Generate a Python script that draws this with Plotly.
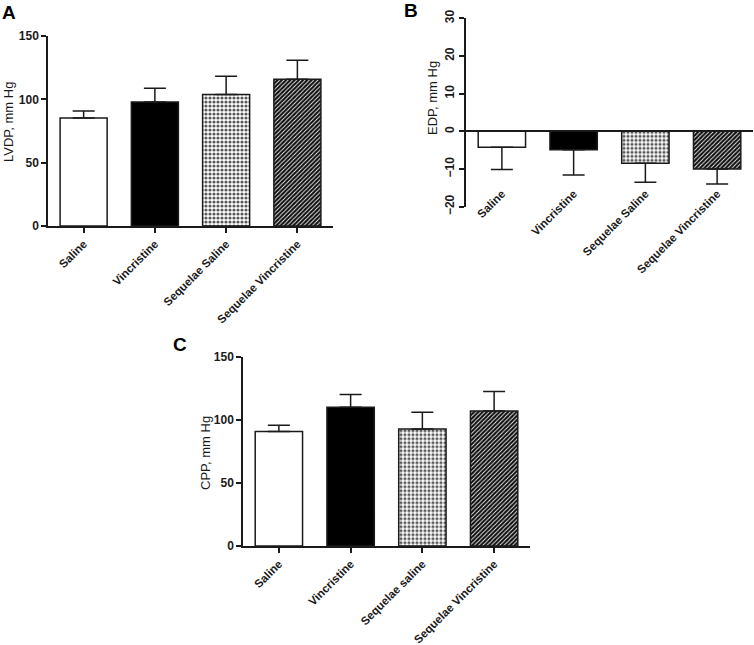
import plotly.graph_objects as go

# group labels
groups_ab = ["Saline", "Vincristine", "Sequelae Saline", "Sequelae Vincristine"]
groups_c = ["Saline", "Vincristine", "Sequelae saline", "Sequelae Vincristine"]

# panel A: LVDP (mean, SEM)
lvdp_mean = [85.3, 97.9, 103.9, 115.8]
lvdp_sem = [5.5, 10.8, 14.3, 15.0]

# panel B: EDP (mean, SEM)
edp_mean = [-4.2, -4.9, -8.5, -10.0]
edp_sem = [5.9, 6.7, 5.0, 4.0]

# panel C: CPP (mean, SEM)
cpp_mean = [90.8, 109.9, 92.7, 106.9]
cpp_sem = [4.8, 10.2, 13.2, 15.6]

W, H = 754, 645
FONT = "Liberation Sans, Arial, sans-serif"
INK = "#1a1a1a"

# fill style per group: plain white, solid black, dotted, dark hatched
fills = [
    dict(color="white"),
    dict(color="black"),
    dict(color="white", pattern=dict(shape=".", bgcolor="white", fgcolor="#5a5a5a",
                                     size=4, solidity=0.5, fillmode="replace")),
    dict(color="black", pattern=dict(shape="/", bgcolor="#0d0d0d", fgcolor="#f2f2f2",
                                     size=3, solidity=0.3, fillmode="replace")),
]


def px_x(a, b):
    return [a / W, b / W]


def px_y(bottom, top):
    return [(H - bottom) / H, (H - top) / H]


def add_panel(x, y, sem, xa, ya, down=False):
    for i in range(len(x)):
        fig.add_trace(go.Bar(
            x=[x[i]], y=[y[i]], xaxis=xa, yaxis=ya,
            marker=dict(fills[i], line=dict(color=INK, width=1.5)),
            error_y=dict(type="data", symmetric=False,
                         array=[0 if down else sem[i]],
                         arrayminus=[sem[i] if down else 0],
                         color=INK, thickness=1.5, width=11),
            showlegend=False, hoverinfo="skip",
        ))


fig = go.Figure()
add_panel(groups_ab, lvdp_mean, lvdp_sem, "x", "y")
add_panel(groups_ab, edp_mean, edp_sem, "x2", "y2", down=True)
add_panel(groups_c, cpp_mean, cpp_sem, "x3", "y3")

tick_font = dict(family=FONT, size=12, color=INK, weight="bold")
cat_font = dict(family=FONT, size=11.5, color=INK, weight="bold")

xcommon = dict(type="category", showline=True, linecolor=INK, linewidth=1.5,
               ticks="outside", ticklen=5, tickwidth=1.5, tickcolor=INK,
               tickangle=-45, tickfont=cat_font, showgrid=False, zeroline=False,
               automargin=False, fixedrange=True)
ycommon = dict(showline=True, linecolor=INK, linewidth=1.5,
               ticks="outside", ticklen=5, tickwidth=1.5, tickcolor=INK,
               tickfont=tick_font, showgrid=False, automargin=False, fixedrange=True)

fig.update_layout(
    width=W, height=H,
    margin=dict(l=0, r=0, t=0, b=0, pad=0),
    paper_bgcolor="white", plot_bgcolor="white",
    barmode="overlay", bargap=0.34,
    xaxis=dict(xcommon, domain=px_x(48, 333), anchor="y", range=[-0.5, 3.5]),
    yaxis=dict(ycommon, domain=px_y(226, 36), anchor="x", range=[0, 150],
               tickvals=[0, 50, 100, 150], zeroline=False),
    xaxis2=dict(xcommon, domain=px_x(466, 753), anchor="free",
                position=(H - 184) / H, range=[-0.5, 3.5],
                showline=False, ticks=""),
    yaxis2=dict(ycommon, domain=px_y(206.7, 18.3), anchor="x2", range=[-20, 30],
                tickvals=[-20, -10, 0, 10, 20, 30], tickangle=-90,
                zeroline=True, zerolinecolor=INK, zerolinewidth=1.5),
    xaxis3=dict(xcommon, domain=px_x(243, 530), anchor="y3", range=[-0.5, 3.5]),
    yaxis3=dict(ycommon, domain=px_y(546, 356.7), anchor="x3", range=[0, 150],
                tickvals=[0, 50, 100, 150], zeroline=False),
)

# panel letters
for letter, lx, ly in [("A", 9, 12), ("B", 411, 10), ("C", 180, 344)]:
    fig.add_annotation(text=letter, x=lx / W, y=(H - ly) / H, xref="paper", yref="paper",
                       showarrow=False, xanchor="center", yanchor="middle",
                       font=dict(family=FONT, size=19, color="black", weight="bold"))

# y axis titles
for title, tx, ty in [("LVDP, mm Hg", 8, 122), ("EDP, mm Hg", 432, 98), ("CPP, mm Hg", 205, 453)]:
    fig.add_annotation(text=title, x=tx / W, y=(H - ty) / H, xref="paper", yref="paper",
                       showarrow=False, textangle=-90, xanchor="center", yanchor="middle",
                       font=dict(family=FONT, size=13, color=INK))

# page body has a default margin; drop it so the figure sits at the window origin
fig.write_html("out.html", config={"displayModeBar": False},
               post_script="document.body.style.margin='0';")
